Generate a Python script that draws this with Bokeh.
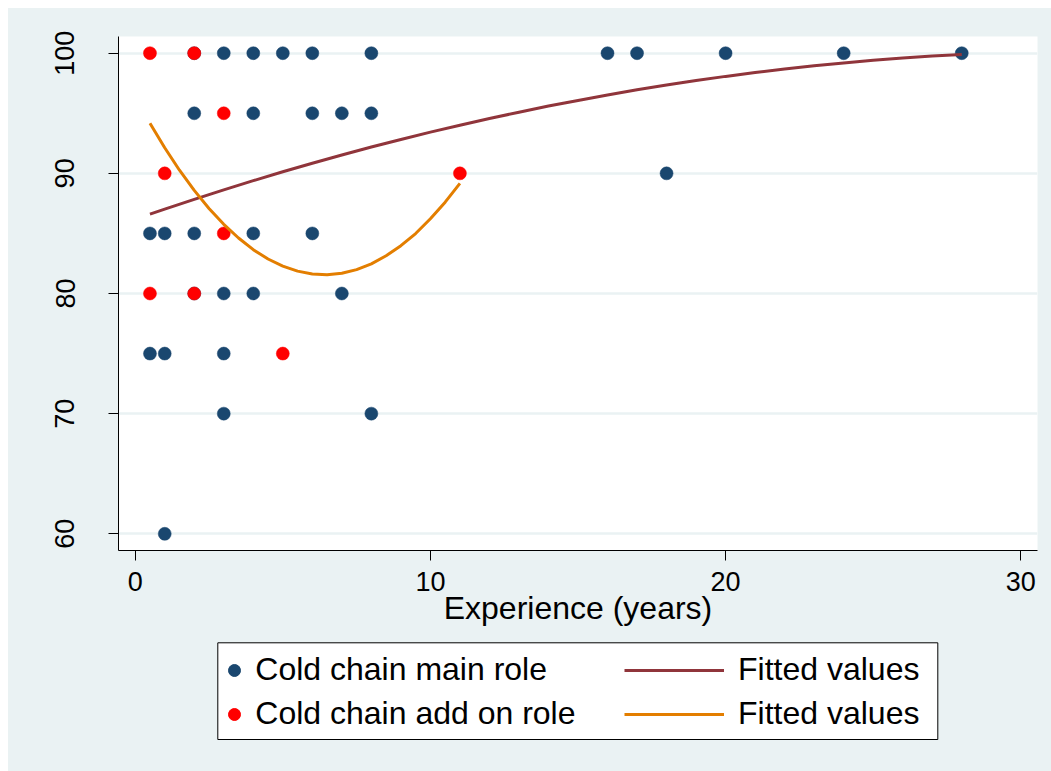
from bokeh.plotting import figure
from bokeh.layouts import column
from bokeh.models import Range1d, FixedTicker, Legend, LegendItem, BoxAnnotation, ColumnDataSource
from bokeh.embed import file_html
from bokeh.resources import INLINE

# ---- data ----
main_x = [0.5, 0.5, 1, 1, 1, 2, 2, 2, 2, 3, 3, 3, 3, 4, 4, 4, 4, 5,
          6, 6, 6, 7, 7, 8, 8, 8, 16, 17, 18, 20, 24, 28]
main_y = [85, 75, 85, 75, 60, 100, 95, 85, 80, 100, 80, 75, 70, 100, 95, 85, 80, 100,
          100, 95, 85, 95, 80, 100, 95, 70, 100, 100, 90, 100, 100, 100]

addon_x = [0.5, 2, 3, 1, 11, 3, 0.5, 2, 5]
addon_y = [100, 100, 95, 90, 90, 85, 80, 80, 75]

fit_main_x = [0.5, 1, 2, 3, 4, 5, 6, 7, 8, 9, 10, 11, 12, 13, 14, 15, 16, 17, 18,
              19, 20, 21, 22, 23, 24, 25, 26, 27, 28]
fit_main_y = [86.60, 87.02, 87.83, 88.63, 89.39, 90.13, 90.84, 91.53, 92.19, 92.82,
              93.43, 94.01, 94.56, 95.09, 95.60, 96.07, 96.52, 96.95, 97.35, 97.72,
              98.07, 98.39, 98.68, 98.95, 99.19, 99.41, 99.60, 99.76, 99.90]

fit_addon_x = [0.5, 1, 1.5, 2, 2.5, 3, 3.5, 4, 4.5, 5, 5.5, 6, 6.5, 7, 7.5, 8,
               8.5, 9, 9.5, 10, 10.5, 11]
fit_addon_y = [94.17, 92.13, 90.26, 88.58, 87.08, 85.76, 84.62, 83.65, 82.87, 82.28,
               81.86, 81.62, 81.56, 81.68, 81.99, 82.47, 83.14, 83.98, 84.99, 86.22,
               87.60, 89.17]

x_ticks = [0, 10, 20, 30]
y_ticks = [60, 70, 80, 90, 100]
x_title = "Experience (years)"
series_names = ["Cold chain main role", "Cold chain add on role", "Fitted values", "Fitted values"]

FONT = "Liberation Sans"
BG = "#EAF2F3"
NAVY = "#1A476F"
RED = "#FF0000"
MAROON = "#90353B"
ORANGE = "#E37E00"

# ---------------- main plot ----------------
p = figure(width=1043, height=627, output_backend="svg", toolbar_location=None,
           x_range=Range1d(-0.566, 30.566), y_range=Range1d(58.61, 101.39),
           min_border_left=110, min_border_right=14, min_border_top=28, min_border_bottom=85,
           background_fill_color="white", border_fill_color=BG)
p.outline_line_color = None

p.xgrid.visible = False
p.ygrid.ticker = FixedTicker(ticks=y_ticks)
p.ygrid.grid_line_color = BG
p.ygrid.grid_line_width = 2.5

for ax in (p.xaxis[0], p.yaxis[0]):
    ax.axis_line_color = "black"
    ax.axis_line_width = 1
    ax.major_tick_line_color = "black"
    ax.major_tick_line_width = 1
    ax.major_tick_in = 0
    ax.major_tick_out = 10
    ax.minor_tick_line_color = None
    ax.major_label_text_font = FONT
    ax.major_label_text_font_size = "27px"
    ax.major_label_text_color = "black"

p.xaxis.ticker = FixedTicker(ticks=x_ticks)
p.yaxis.ticker = FixedTicker(ticks=y_ticks)
p.xaxis.major_label_standoff = 11
p.yaxis.major_label_standoff = 34
p.yaxis.major_label_orientation = "vertical"

p.xaxis.axis_label = x_title
p.xaxis.axis_label_text_font = FONT
p.xaxis.axis_label_text_font_size = "32px"
p.xaxis.axis_label_text_font_style = "normal"
p.xaxis.axis_label_text_color = "black"
p.xaxis.axis_label_standoff = -4

src_main = ColumnDataSource(dict(x=main_x, y=main_y))
src_add = ColumnDataSource(dict(x=addon_x, y=addon_y))
src_fm = ColumnDataSource(dict(x=fit_main_x, y=fit_main_y))
src_fa = ColumnDataSource(dict(x=fit_addon_x, y=fit_addon_y))

p.scatter("x", "y", source=src_main, size=13, marker="circle",
          fill_color=NAVY, line_color=NAVY, line_width=0.5)
p.scatter("x", "y", source=src_add, size=13, marker="circle",
          fill_color=RED, line_color=RED, line_width=0.5)
p.line("x", "y", source=src_fm, line_color=MAROON, line_width=3)
p.line("x", "y", source=src_fa, line_color=ORANGE, line_width=3)

# ---------------- legend strip (frame aligned with the plot frame) ----------------
FW, LH = 919, 136
lg = figure(width=1043, height=LH, output_backend="svg", toolbar_location=None,
            x_range=Range1d(0, FW), y_range=Range1d(0, LH),
            x_axis_type=None, y_axis_type=None,
            min_border_left=110, min_border_right=14, min_border_top=0, min_border_bottom=0,
            background_fill_color=None, border_fill_color=BG)
lg.outline_line_color = None
lg.xgrid.visible = False
lg.ygrid.visible = False

box = BoxAnnotation(left=99.3, right=819.3, bottom=32, top=128.7,
                    fill_color="white", fill_alpha=1.0,
                    line_color="black", line_width=1, line_alpha=1.0)
lg.add_layout(box)

nan = float("nan")
d_main = lg.scatter(x=[nan], y=[nan], size=13, marker="circle", fill_color=NAVY, line_color=NAVY)
d_add = lg.scatter(x=[nan], y=[nan], size=13, marker="circle", fill_color=RED, line_color=RED)
d_fm = lg.line(x=[nan, nan], y=[nan, nan], line_color=MAROON, line_width=3)
d_fa = lg.line(x=[nan, nan], y=[nan, nan], line_color=ORANGE, line_width=3)

common = dict(orientation="vertical", glyph_height=36, label_height=36, spacing=7,
              padding=0, margin=0, border_line_color=None, background_fill_alpha=0,
              label_text_font=FONT, label_text_font_size="32px", label_text_color="black")

leg1 = Legend(items=[LegendItem(label=series_names[0], renderers=[d_main]),
                     LegendItem(label=series_names[1], renderers=[d_add])],
              location=(101.3, 39), glyph_width=30, label_standoff=6, **common)
leg2 = Legend(items=[LegendItem(label=series_names[2], renderers=[d_fm]),
                     LegendItem(label=series_names[3], renderers=[d_fa])],
              location=(506, 39), glyph_width=100, label_standoff=14, **common)
lg.add_layout(leg1)
lg.add_layout(leg2)

layout = column(p, lg, spacing=0, styles={"background-color": BG})
layout.margin = (8, 0, 0, 8)

open("out.html", "w").write(file_html(layout, INLINE))
